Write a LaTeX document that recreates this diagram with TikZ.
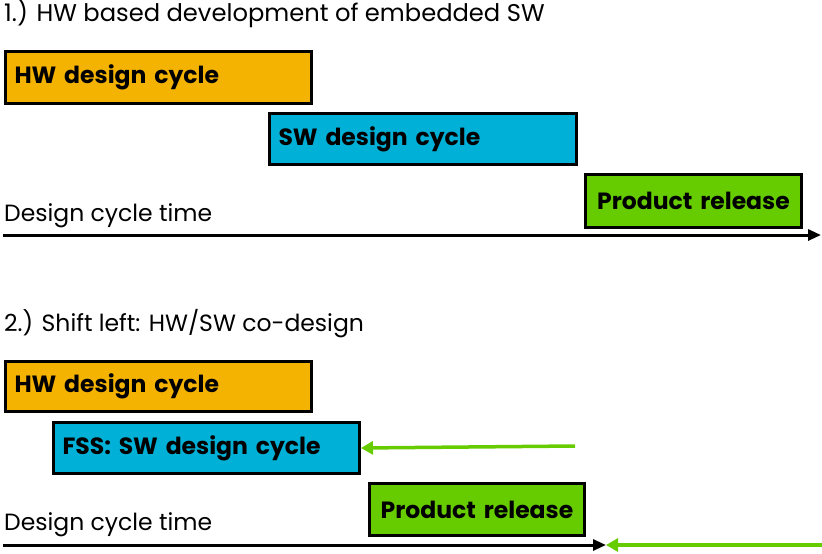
\documentclass[tikz,border=0pt]{standalone}
\usepackage{fontspec}
\setmainfont{Poppins}
\usetikzlibrary{arrows.meta,shadows}
\definecolor{hworange}{HTML}{F5B301}
\definecolor{swcyan}{HTML}{00B0D6}
\definecolor{prgreen}{HTML}{66CC00}
\tikzset{
  box/.style={draw=black, line width=3pt, anchor=north west, inner xsep=9pt, inner ysep=0pt,
    align=left, font=\fontsize{23.5}{26}\selectfont\bfseries,
    drop shadow={shadow xshift=1.5pt, shadow yshift=-1.5pt, opacity=0.25}},
  title/.style={anchor=base west, inner sep=0pt, font=\fontsize{23.5}{26}\selectfont},
  axis/.style={line width=3pt, -{Triangle[length=13pt,width=11pt]}},
  shiftarrow/.style={draw=prgreen, line width=3.5pt, -{Triangle[length=12pt,width=13pt]}},
}
\begin{document}
\begin{tikzpicture}[x=1pt,y=-1pt]
\useasboundingbox (0,0) rectangle (822,554);
% section 1
\node[title, font=\fontsize{24.2}{26}\selectfont] (t1) at (4,21) {1.) HW based development of embedded SW};
\node[box, fill=hworange, minimum width=306pt, minimum height=52pt, text width=288pt] (hw1) at (4,50) {HW design cycle};
\node[box, fill=swcyan, minimum width=307pt, minimum height=51pt, text width=289pt] (sw1) at (268,112) {SW design cycle};
\node[box, fill=prgreen, minimum width=216pt, minimum height=53pt, align=center, text width=198pt] (pr1) at (584,173) {Product release};
\node[title] (d1) at (4,221) {Design cycle time};
\coordinate (a1s) at (3,235);
\coordinate (a1e) at (821,235);
\draw[axis] (a1s) -- (a1e);
% section 2
\node[title] (t2) at (4,331) {2.) Shift left: HW/SW co-design};
\node[box, fill=hworange, minimum width=306pt, minimum height=50pt, text width=288pt] (hw2) at (4,360) {HW design cycle};
\node[box, fill=swcyan, minimum width=306pt, minimum height=51pt, text width=288pt] (fss) at (52,421) {FSS: SW design cycle};
\node[box, fill=prgreen, minimum width=215pt, minimum height=52pt, align=center, text width=197pt] (pr2) at (368,482) {Product release};
\node[title] (d2) at (4,530) {Design cycle time};
\coordinate (g1s) at (575,446);
\draw[shiftarrow] (g1s) -- (fss.east);
\coordinate (a2s) at (3,545);
\coordinate (a2e) at (606,545);
\draw[axis] (a2s) -- (a2e);
\coordinate (g2s) at (822,545);
\draw[shiftarrow] (g2s) -- (a2e);
\end{tikzpicture}
\end{document}
